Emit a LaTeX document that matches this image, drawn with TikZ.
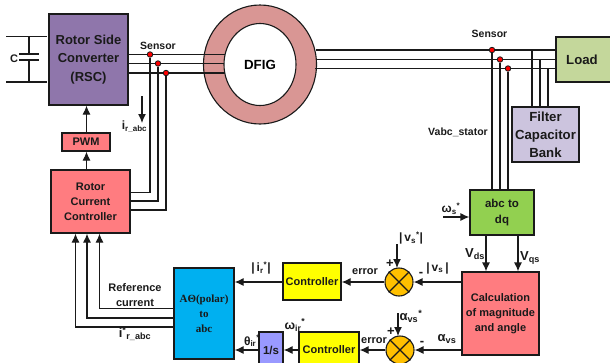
\documentclass[tikz,border=0pt]{standalone}
\usepackage{fontspec}
\setmainfont{Liberation Sans}
\newfontfamily\serifb{Liberation Serif}
\usetikzlibrary{arrows.meta,calc,shapes.geometric}
\newcommand{\fs}[2]{\fontsize{#1}{#2}\selectfont\bfseries}
\newcommand{\bx}[8]{\node[boxn,fill=#6,font=#7,minimum width={(#4-#2)*1pt},minimum height={(#5-#3)*1pt}] (#1) at ({(#2+#4)/2},{(#3+#5)/2}) {#8};}
\definecolor{rsc}{HTML}{8F76AB}
\definecolor{ring}{HTML}{D99694}
\definecolor{pinkb}{HTML}{FF7C80}
\definecolor{lilac}{HTML}{CCC4DE}
\definecolor{loadg}{HTML}{C4D79B}
\definecolor{abcg}{HTML}{92D050}
\definecolor{blueb}{HTML}{00B0F0}
\definecolor{perib}{HTML}{9999FF}
\definecolor{yel}{HTML}{FFFF00}
\definecolor{orng}{HTML}{FFC000}
\definecolor{ink}{HTML}{1A1A1A}
\tikzset{
 boxn/.style={draw=ink,line width=1.2pt,inner sep=0pt,align=center,text=ink},
 wire/.style={draw=ink,line width=1.2pt},
 arr/.style={draw=ink,line width=1.2pt,-{Latex[length=9pt,width=8pt]}},
 dotn/.style={circle,fill=red,draw=ink,line width=0.8pt,inner sep=0pt,minimum size=5.5pt},
 lab/.style={inner sep=0pt,text=ink,align=center},
 sumn/.style={circle,fill=orng,draw=ink,line width=1.1pt,inner sep=0pt,minimum size=28pt},
}
\begin{document}
\begin{tikzpicture}[x=1pt,y=-1pt]
\clip (0,0) rectangle (610,362);
\fill[white] (0,0) rectangle (610,362);
% machine
\node[ellipse,draw=ink,fill=ring,line width=1.1pt,minimum width=113pt,minimum height=119pt,inner sep=0pt] (ringn) at (260,64.5) {};
\coordinate (ra) at (128,54.5); \coordinate (rb) at (128,63.5); \coordinate (rc) at (128,73);
\coordinate (ma) at (225,54.5); \coordinate (mb) at (225,63.5); \coordinate (mc) at (225,73);
\draw[wire] (ra) -- (ma); \draw[wire] (rb) -- (mb); \draw[wire] (rc) -- (mc);
\node[ellipse,draw=ink,fill=white,line width=1.1pt,minimum width=72pt,minimum height=82pt,inner sep=0pt,font=\fs{13.3}{15}] (dfig) at (260,64.5) {DFIG};
% boxes
\bx{rscn}{49}{14}{128}{105}{rsc}{\fs{13}{18.6}}{Rotor Side\\Converter\\(RSC)}
\bx{pwm}{62}{133}{110}{151}{pinkb}{\fs{11}{12}}{PWM}
\bx{rcc}{51}{170}{130}{233}{pinkb}{\fs{11}{15}}{Rotor\\Current\\Controller}
\bx{load}{556}{37}{612}{82}{loadg}{\fs{13.2}{15}}{Load\hspace*{4pt}}
\bx{filt}{512}{107}{579}{162}{lilac}{\fs{13.2}{18}}{Filter\\Capacitor\\Bank}
\bx{abc}{470}{190}{534}{235}{abcg}{\fs{11.5}{16}}{abc to\\dq}
\bx{calc}{462}{272}{539}{355}{pinkb}{\fs{11}{15}}{Calculation\\of magnitude\\and angle}
\bx{aot}{174}{268}{234}{359}{blueb}{\serifb\fs{11}{15}}{AΘ(polar)\\to\\abc}
\bx{ctrla}{283}{263}{341}{300}{yel}{\fs{11}{12}}{Controller}
\bx{ctrlb}{299}{332}{359}{368}{yel}{\fs{11}{12}}{}
\bx{ints}{259}{332}{283}{368}{perib}{\fs{11}{12}}{}
\node[lab,font=\fs{11}{12}] (ctrlbt) at (329,350) {Controller};
\node[lab,font=\fs{11.5}{12}] (intt) at (271,350) {1/s};
\node[sumn] (suma) at (399,282) {};
\node[sumn] (sumb) at (400,350) {};
\draw[wire] (suma.45) -- (suma.225); \draw[wire] (suma.135) -- (suma.315);
\draw[wire] (sumb.45) -- (sumb.225); \draw[wire] (sumb.135) -- (sumb.315);
% DC link
\coordinate (cta) at (6,36.5); \coordinate (ctb) at (47,36.5);
\coordinate (cba) at (6,82); \coordinate (cbb) at (47,82);
\coordinate (pt) at (29,54); \coordinate (pb) at (29,60);
\coordinate (ptl) at (19,54); \coordinate (ptr) at (39,54);
\coordinate (pbl) at (19,60); \coordinate (pbr) at (39,60);
\draw[wire] (cta) -- (ctb); \draw[wire] (cba) -- (cbb);
\draw[wire] (cta -| pt) -- (pt); \draw[wire] (pb) -- (cba -| pt);
\draw[wire] (ptl) -- (ptr); \draw[wire] (pbl) -- (pbr);
\node[lab,font=\fs{11}{12}] (clab) at (14,59) {C};
% rotor sensors
\node[dotn] (s1) at (150,54.5) {};
\node[dotn] (s2) at (158,63.5) {};
\node[dotn] (s3) at (166,73) {};
\coordinate (ia) at (130,192.5); \coordinate (ib) at (130,201); \coordinate (ic) at (130,210);
\draw[wire] (s1) |- (ia); \draw[wire] (s2) |- (ib); \draw[wire] (s3) |- (ic);
\node[lab,font=\fs{10.5}{12}] (sensl) at (158,46) {Sensor};
\coordinate (ita) at (142,96); \coordinate (itb) at (142,123);
\draw[arr] (ita) -- (itb);
\node[lab,font=\fs{12}{12}] (irl) at (134.5,127) {i\textsubscript{r\_abc}};
% stator wires
\coordinate (ga) at (316,50); \coordinate (gb) at (316,59.5); \coordinate (gc) at (315,68.5);
\draw[wire] (ga) -- (ga -| load.west); \draw[wire] (gb) -- (gb -| load.west); \draw[wire] (gc) -- (gc -| load.west);
\node[dotn] (t1) at (492,50) {};
\node[dotn] (t2) at (500,59.5) {};
\node[dotn] (t3) at (508,68.5) {};
\draw[wire] (t1) -- (t1 |- abc.north); \draw[wire] (t2) -- (t2 |- abc.north); \draw[wire] (t3) -- (t3 |- abc.north);
\node[lab,font=\fs{10.5}{12}] (sensr) at (489.5,34) {Sensor};
\coordinate (fa) at (532,50); \coordinate (fb) at (540,59.5); \coordinate (fc) at (548,68.5);
\draw[wire] (fa) -- (fa |- filt.north); \draw[wire] (fb) -- (fb |- filt.north); \draw[wire] (fc) -- (fc |- filt.north);
\node[lab,font=\fs{10.5}{12}] (vabc) at (458,132) {Vabc\_stator};
% converter chain
\coordinate (xup) at (86.5,140);
\draw[arr] (pwm.north -| xup) -- (rscn.south -| xup);
\draw[arr] (rcc.north -| xup) -- (pwm.south -| xup);
% abc block
\coordinate (wsa) at (443,217);
\draw[arr] (wsa) -- (wsa -| abc.west);
\node[lab,font=\fs{12}{12}] (wsl) at (451,208.5) {ω\textsubscript{s}\textsuperscript{*}};
\coordinate (xd) at (486,250); \coordinate (xq) at (518,250);
\draw[arr] (abc.south -| xd) -- (calc.north -| xd);
\draw[arr] (abc.south -| xq) -- (calc.north -| xq);
\node[lab,font=\fs{13}{12}] (vdl) at (475,254) {V\textsubscript{ds}};
\node[lab,font=\fs{13}{12}] (vql) at (530,258) {V\textsubscript{qs}};
% loop a
\coordinate (ya) at (450,282);
\draw[arr] (ya -| calc.west) -- (suma);
\draw[arr] (suma) -- (suma -| ctrla.east);
\draw[arr] (suma -| ctrla.west) -- (suma -| aot.east);
\coordinate (vsa) at (397,244);
\draw[arr] (vsa) -- (397,268);
\node[lab,font=\fs{12}{12}] (vsstar) at (411,238) {|\,v\textsubscript{s}\textsuperscript{*}|};
\node[lab,font=\fs{12}{12}] (vsl) at (437.5,268) {|\,v\textsubscript{s}\,|};
\node[lab,font=\fs{11}{12}] (era) at (365,272) {error};
\node[lab,font=\fs{13}{12}] (mna) at (421,274) {-};
\node[lab,font=\fs{13}{12}] (pla) at (390,264) {+};
\node[lab,font=\fs{12}{12}] (irs) at (261,268) {|\,i\textsubscript{r}\textsuperscript{*}|};
% loop b
\coordinate (yb) at (450,350);
\draw[arr] (yb -| calc.west) -- (sumb);
\draw[arr] (sumb) -- (sumb -| ctrlb.east);
\draw[arr] (sumb -| ctrlb.west) -- (sumb -| ints.east);
\draw[arr] (sumb -| ints.west) -- (sumb -| aot.east);
\coordinate (asa) at (398,313);
\draw[arr] (asa) -- (398,336);
\node[lab,font=\fs{13}{12}] (asl) at (411,316) {α\textsubscript{vs}\textsuperscript{*}};
\node[lab,font=\fs{13}{12}] (avl) at (447,339) {α\textsubscript{vs}};
\node[lab,font=\fs{11}{12}] (erb) at (374,341) {error};
\node[lab,font=\fs{13}{12}] (mnb) at (422,343) {-};
\node[lab,font=\fs{13}{12}] (plb) at (391,332) {+};
\node[lab,font=\fs{12.5}{12}] (wir) at (295,325) {ω\textsubscript{ir}\textsuperscript{*}};
\node[lab,font=\fs{12}{12}] (thl) at (252,341) {θ\textsubscript{ir}\textsuperscript{*}};
% reference currents
\coordinate (ab) at (174,308.5); \coordinate (ac) at (174,318); \coordinate (ad) at (174,327);
\coordinate (x1) at (99.5,250); \coordinate (x2) at (87,250); \coordinate (x3) at (75.5,250);
\draw[arr] (ab) -| (rcc.south -| x1);
\draw[arr] (ac) -| (rcc.south -| x2);
\draw[arr] (ad) -| (rcc.south -| x3);
\node[lab,font=\fs{11}{15}] (refl) at (135,295.5) {Reference\\current};
\node[lab,font=\fs{13}{12}] (ial) at (135,334) {i\textsuperscript{*}\textsubscript{r\_abc}};
\end{tikzpicture}
\end{document}
